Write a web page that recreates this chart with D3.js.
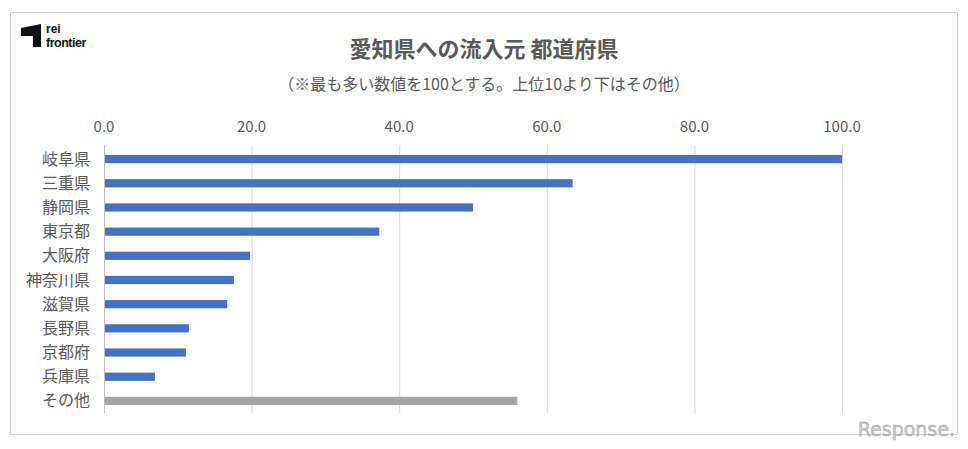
<!DOCTYPE html>
<html><head><meta charset="utf-8">
<script src="https://cdn.jsdelivr.net/npm/d3@7"></script>
<style>body{margin:0;background:#fff}</style></head>
<body><svg id="c" width="968" height="449"></svg>
<script>
const categories=["岐阜県","三重県","静岡県","東京都","大阪府","神奈川県","滋賀県","長野県","京都府","兵庫県","その他"];
const values=[100,63.5,50.0,37.3,19.8,17.6,16.7,11.5,11.1,6.9,56.0];
const ticks=[0,20,40,60,80,100];
const svg=d3.select("#c");
const F="'Noto Sans CJK JP','Noto Sans',sans-serif";
svg.append("rect").attr("x",10.5).attr("y",12.5).attr("width",947).attr("height",422).attr("fill","#fff").attr("stroke","#d0d0d0");
// logo
svg.append("path").attr("d","M21,28 L41,24 L41,47 L33,47 L33,36 L21,36 Z").attr("fill","#111");
svg.append("text").attr("x",46).attr("y",33).attr("font-family","Liberation Sans,Arial").attr("font-size",12).attr("font-weight","bold").attr("fill","#111").text("rei");
svg.append("text").attr("x",46).attr("y",47).attr("font-family","Liberation Sans,Arial").attr("font-size",12.5).attr("font-weight","bold").attr("fill","#111").attr("letter-spacing",-0.5).text("frontier");
svg.append("text").attr("x",484).attr("y",57).attr("text-anchor","middle").attr("font-family",F).attr("font-size",22).attr("font-weight","bold").attr("fill","#595959").text("愛知県への流入元 都道府県");
svg.append("text").attr("x",484).attr("y",90).attr("text-anchor","middle").attr("font-family",F).attr("font-size",16).attr("fill","#595959").text("（※最も多い数値を100とする。上位10より下はその他）");
const x=d3.scaleLinear().domain([0,100]).range([104,842]);
const y=d3.scaleBand().domain(categories).range([147,413]).paddingInner(0.66).paddingOuter(0.33);
svg.append("g").selectAll("line").data(ticks).join("line").attr("x1",d=>x(d)+0.5).attr("x2",d=>x(d)+0.5).attr("y1",145).attr("y2",413).attr("stroke",(d)=>d===0?"#bfbfbf":"#d9d9d9");
svg.append("g").selectAll("text").data(ticks).join("text").attr("x",d=>x(d)).attr("y",132).attr("text-anchor","middle").attr("font-family",F).attr("font-size",15).attr("fill","#595959").text(d=>d.toFixed(1));
svg.append("g").selectAll("rect").data(values).join("rect").attr("x",x(0)+1).attr("y",(d,i)=>y(categories[i])).attr("width",d=>x(d)-x(0)-1).attr("height",y.bandwidth()).attr("fill",(d,i)=>i===10?"#a5a5a5":"#4472c4");
svg.append("g").selectAll("text").data(categories).join("text").attr("x",90).attr("y",d=>y(d)+y.bandwidth()/2+5.5).attr("text-anchor","end").attr("font-family",F).attr("font-size",16).attr("fill","#595959").text(d=>d);
svg.append("text").attr("x",955).attr("y",436).attr("text-anchor","end").attr("font-family","DejaVu Sans,sans-serif").attr("font-size",19).attr("fill","#c8c8c8").attr("stroke","#999").attr("stroke-width",0.4).text("Response.");
</script></body></html>
